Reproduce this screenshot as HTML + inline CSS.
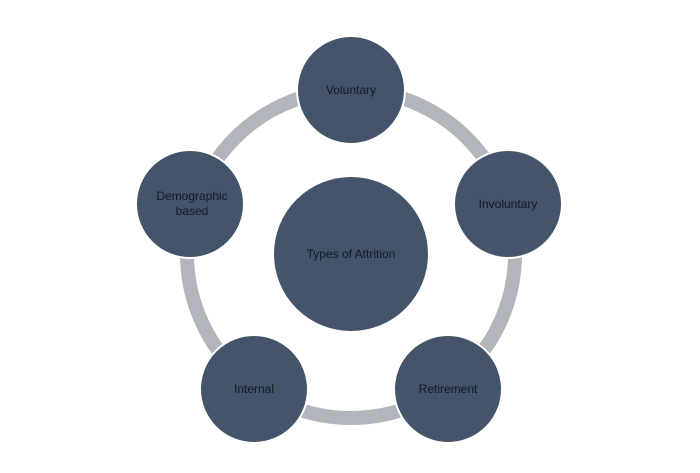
<!DOCTYPE html>
<html><head><style>body{margin:0;background:#fff}svg{display:block}</style></head><body>
<svg width="700" height="473" xmlns="http://www.w3.org/2000/svg" font-family="Liberation Sans, sans-serif" font-size="12" fill="#111">
<circle cx="351" cy="254" r="164" fill="none" stroke="#b3b5bc" stroke-width="14"/>
<g fill="#44546a" stroke="#fff" stroke-width="2">
<circle cx="351" cy="90" r="54"/>
<circle cx="508" cy="204" r="54"/>
<circle cx="448" cy="389" r="54"/>
<circle cx="254" cy="389" r="54"/>
<circle cx="190" cy="204" r="54"/>
<circle cx="351" cy="254" r="78"/>
</g>
<g text-anchor="middle" fill="#151a24">
<text x="351" y="94">Voluntary</text>
<text x="508" y="208">Involuntary</text>
<text x="448" y="393">Retirement</text>
<text x="254" y="393">Internal</text>
<text x="192" y="200">Demographic</text>
<text x="192" y="215">based</text>
<text x="351" y="258">Types of Attrition</text>
</g>
</svg>
</body></html>
